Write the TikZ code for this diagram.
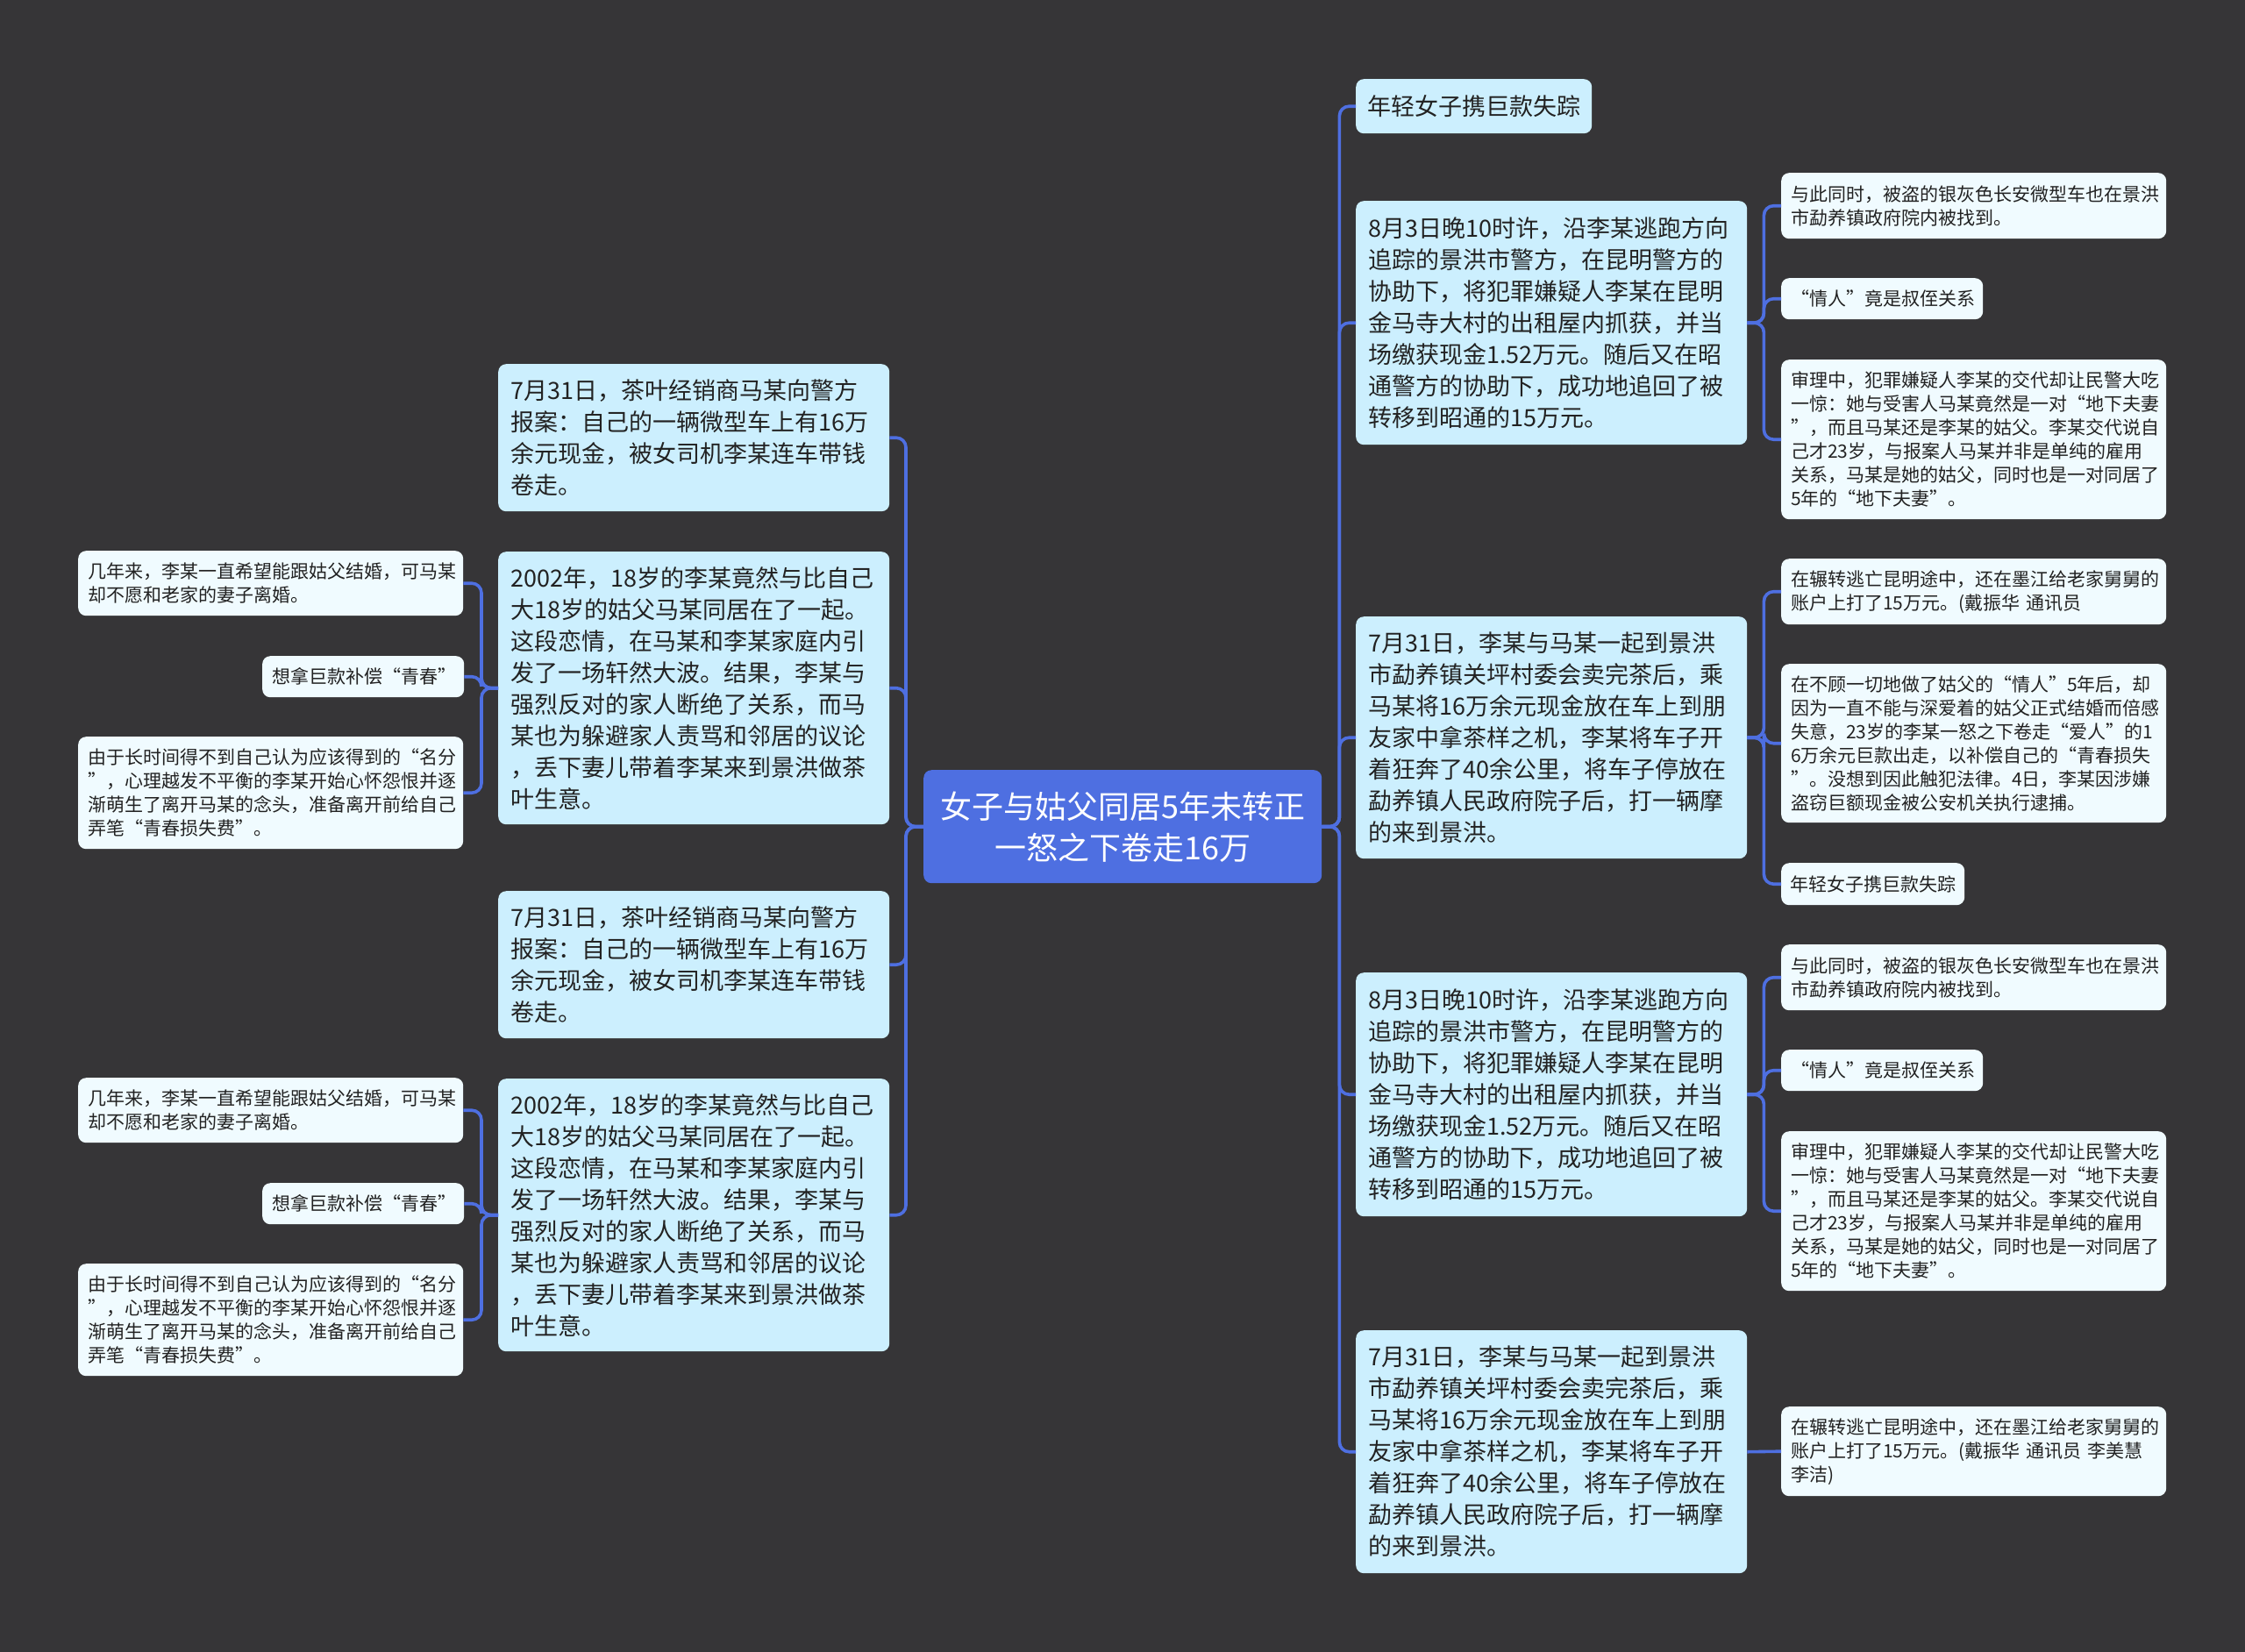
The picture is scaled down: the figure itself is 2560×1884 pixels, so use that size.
\documentclass[tikz,border=0pt]{standalone}
\usepackage{fontspec}
\setmainfont{Noto Sans CJK SC}
\definecolor{bg}{RGB}{54,53,55}
\definecolor{rootfill}{RGB}{78,111,225}
\definecolor{lonefill}{RGB}{204,239,254}
\definecolor{leaffill}{RGB}{240,251,255}
\definecolor{txt}{RGB}{34,34,34}
\definecolor{linec}{RGB}{78,111,225}
\tikzset{
  base/.style={rounded corners=9, inner ysep=0pt, anchor=north west, align=left, text=txt},
  rootbox/.style={base, fill=rootfill, text=white, align=center, inner xsep=0pt, text width=454, minimum height=129,
    font=\fontsize{36}{47}\selectfont},
  lone/.style={base, fill=lonefill, inner xsep=14, text width=418, font=\fontsize{27}{36}\selectfont},
  leaf/.style={base, fill=leaffill, inner xsep=11, text width=417, font=\fontsize{21}{27}\selectfont},
  conn/.style={draw=linec, line width=3.6, rounded corners=11},
}
\begin{document}
\begin{tikzpicture}[x=1pt,y=-1pt]
\fill[bg] (0,0) rectangle (2560,1884);
\useasboundingbox (0,0) rectangle (2560,1884);

% root
\node[rootbox] (root) at (1053,878) {女子与姑父同居5年未转正\\一怒之下卷走16万};

% left level 1
\node[lone, minimum height=168] (a1) at (568,415) {7月31日，茶叶经销商马某向警方\\报案：自己的一辆微型车上有16万\\余元现金，被女司机李某连车带钱\\卷走。};
\node[lone, minimum height=311] (a2) at (568,629) {2002年，18岁的李某竟然与比自己\\大18岁的姑父马某同居在了一起。\\这段恋情，在马某和李某家庭内引\\发了一场轩然大波。结果，李某与\\强烈反对的家人断绝了关系，而马\\某也为躲避家人责骂和邻居的议论\\，丢下妻儿带着李某来到景洪做茶\\叶生意。};
\node[lone, minimum height=168] (a3) at (568,1016) {7月31日，茶叶经销商马某向警方\\报案：自己的一辆微型车上有16万\\余元现金，被女司机李某连车带钱\\卷走。};
\node[lone, minimum height=311] (a4) at (568,1230) {2002年，18岁的李某竟然与比自己\\大18岁的姑父马某同居在了一起。\\这段恋情，在马某和李某家庭内引\\发了一场轩然大波。结果，李某与\\强烈反对的家人断绝了关系，而马\\某也为躲避家人责骂和邻居的议论\\，丢下妻儿带着李某来到景洪做茶\\叶生意。};

% left leaves
\node[leaf, minimum height=74] (b1) at (89,628) {几年来，李某一直希望能跟姑父结婚，可马某\\却不愿和老家的妻子离婚。};
\node[leaf, text width=208, minimum height=47] (b2) at (299,748) {想拿巨款补偿“青春”};
\node[leaf, minimum height=128] (b3) at (89,840) {由于长时间得不到自己认为应该得到的“名分\\”，心理越发不平衡的李某开始心怀怨恨并逐\\渐萌生了离开马某的念头，准备离开前给自己\\弄笔“青春损失费”。};
\node[leaf, minimum height=74] (b4) at (89,1229) {几年来，李某一直希望能跟姑父结婚，可马某\\却不愿和老家的妻子离婚。};
\node[leaf, text width=208, minimum height=47] (b5) at (299,1349) {想拿巨款补偿“青春”};
\node[leaf, minimum height=128] (b6) at (89,1441) {由于长时间得不到自己认为应该得到的“名分\\”，心理越发不平衡的李某开始心怀怨恨并逐\\渐萌生了离开马某的念头，准备离开前给自己\\弄笔“青春损失费”。};

% right level 1
\node[lone, inner xsep=13, text width=243, minimum height=62] (c1) at (1546,90) {年轻女子携巨款失踪};
\node[lone, minimum height=278] (c2) at (1546,229) {8月3日晚10时许，沿李某逃跑方向\\追踪的景洪市警方，在昆明警方的\\协助下，将犯罪嫌疑人李某在昆明\\金马寺大村的出租屋内抓获，并当\\场缴获现金1.52万元。随后又在昭\\通警方的协助下，成功地追回了被\\转移到昭通的15万元。};
\node[lone, minimum height=276] (c3) at (1546,703) {7月31日，李某与马某一起到景洪\\市勐养镇关坪村委会卖完茶后，乘\\马某将16万余元现金放在车上到朋\\友家中拿茶样之机，李某将车子开\\着狂奔了40余公里，将车子停放在\\勐养镇人民政府院子后，打一辆摩\\的来到景洪。};
\node[lone, minimum height=278] (c4) at (1546,1109) {8月3日晚10时许，沿李某逃跑方向\\追踪的景洪市警方，在昆明警方的\\协助下，将犯罪嫌疑人李某在昆明\\金马寺大村的出租屋内抓获，并当\\场缴获现金1.52万元。随后又在昭\\通警方的协助下，成功地追回了被\\转移到昭通的15万元。};
\node[lone, minimum height=277] (c5) at (1546,1517) {7月31日，李某与马某一起到景洪\\市勐养镇关坪村委会卖完茶后，乘\\马某将16万余元现金放在车上到朋\\友家中拿茶样之机，李某将车子开\\着狂奔了40余公里，将车子停放在\\勐养镇人民政府院子后，打一辆摩\\的来到景洪。};

% right leaves
\node[leaf, minimum height=75] (d1) at (2031,197) {与此同时，被盗的银灰色长安微型车也在景洪\\市勐养镇政府院内被找到。};
\node[leaf, text width=208, minimum height=47] (d2) at (2031,317) {“情人”竟是叔侄关系};
\node[leaf, minimum height=182] (d3) at (2031,410) {审理中，犯罪嫌疑人李某的交代却让民警大吃\\一惊：她与受害人马某竟然是一对“地下夫妻\\”，而且马某还是李某的姑父。李某交代说自\\己才23岁，与报案人马某并非是单纯的雇用\\关系，马某是她的姑父，同时也是一对同居了\\5年的“地下夫妻”。};
\node[leaf, minimum height=75] (d4) at (2031,637) {在辗转逃亡昆明途中，还在墨江给老家舅舅的\\账户上打了15万元。(戴振华 通讯员};
\node[leaf, minimum height=181] (d5) at (2031,757) {在不顾一切地做了姑父的“情人”5年后，却\\因为一直不能与深爱着的姑父正式结婚而倍感\\失意，23岁的李某一怒之下卷走“爱人”的1\\6万余元巨款出走，以补偿自己的“青春损失\\”。没想到因此触犯法律。4日，李某因涉嫌\\盗窃巨额现金被公安机关执行逮捕。};
\node[leaf, inner xsep=10, text width=189, minimum height=48] (d6) at (2031,984) {年轻女子携巨款失踪};
\node[leaf, minimum height=75] (d7) at (2031,1077) {与此同时，被盗的银灰色长安微型车也在景洪\\市勐养镇政府院内被找到。};
\node[leaf, text width=208, minimum height=47] (d8) at (2031,1197) {“情人”竟是叔侄关系};
\node[leaf, minimum height=182] (d9) at (2031,1290) {审理中，犯罪嫌疑人李某的交代却让民警大吃\\一惊：她与受害人马某竟然是一对“地下夫妻\\”，而且马某还是李某的姑父。李某交代说自\\己才23岁，与报案人马某并非是单纯的雇用\\关系，马某是她的姑父，同时也是一对同居了\\5年的“地下夫妻”。};
\node[leaf, minimum height=102] (d10) at (2031,1604) {在辗转逃亡昆明途中，还在墨江给老家舅舅的\\账户上打了15万元。(戴振华 通讯员 李美慧\\李洁)};

% connectors: root to level 1
\foreach \n in {a1,a2,a3,a4}
  \draw[conn] (root.west) -- ++(-20,0) |- (\n.east);
\foreach \n in {c1,c2,c3,c4,c5}
  \draw[conn] (root.east) -- ++(20,0) |- (\n.west);
% level 1 to leaves
\foreach \n in {b1,b2,b3}
  \draw[conn] (a2.west) -- ++(-19,0) |- (\n.east);
\foreach \n in {b4,b5,b6}
  \draw[conn] (a4.west) -- ++(-19,0) |- (\n.east);
\foreach \n in {d1,d2,d3}
  \draw[conn] (c2.east) -- ++(19,0) |- (\n.west);
\foreach \n in {d4,d5,d6}
  \draw[conn] (c3.east) -- ++(19,0) |- (\n.west);
\foreach \n in {d7,d8,d9}
  \draw[conn] (c4.east) -- ++(19,0) |- (\n.west);
\draw[conn] (c5.east) -- (d10.west);
\end{tikzpicture}
\end{document}
